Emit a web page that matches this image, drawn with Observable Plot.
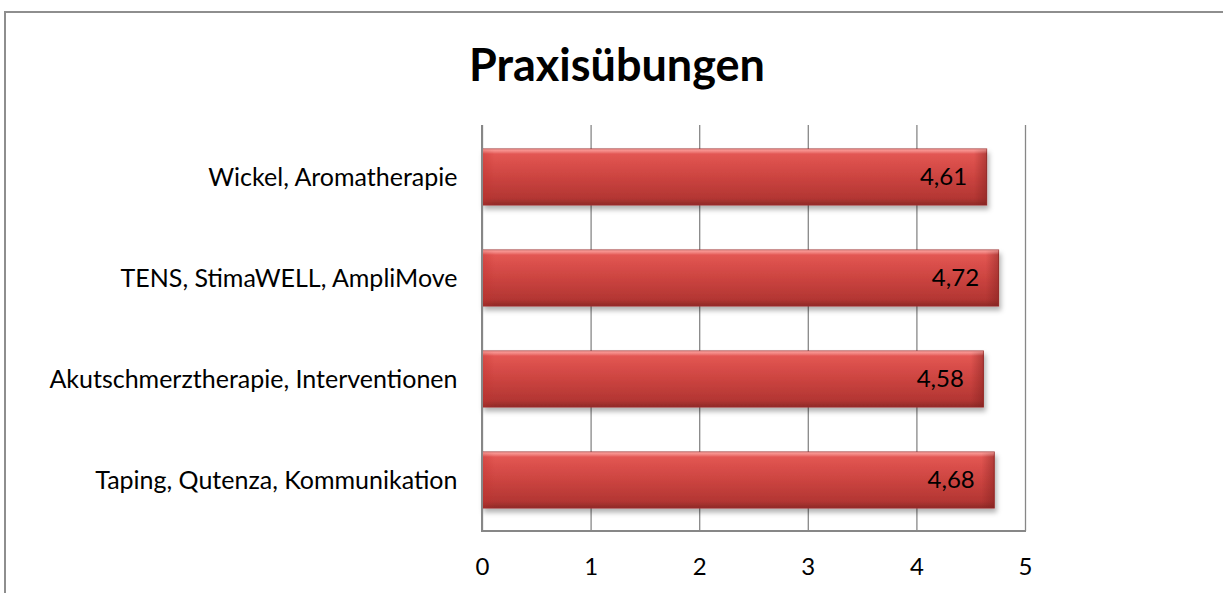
<!DOCTYPE html>
<html>
<head>
<meta charset="utf-8">
<script src="https://cdn.jsdelivr.net/npm/d3@7"></script>
<script src="https://cdn.jsdelivr.net/npm/@observablehq/plot@0.6"></script>
<style>
  html, body { margin: 0; padding: 0; background: #fff; }
  #wrap { position: relative; width: 1223px; height: 593px; overflow: hidden; font-family: Lato, "Open Sans", sans-serif; }
  #frame { position: absolute; left: 4px; top: 11px; width: 1240px; height: 620px; border: 2px solid #8e8e8e; box-sizing: border-box; }
  #title { position: absolute; left: 0; width: 1234px; top: 36px; text-align: center; font-weight: 700; font-size: 45px; line-height: 56px; color: #000; }
  #chart { position: absolute; left: 0; top: 0; }
</style>
</head>
<body>
<div id="wrap">
  <div id="frame"></div>
  <div id="chart"></div>
  <div id="title">Praxisübungen</div>
</div>
<script>
const categories = ["Wickel, Aromatherapie", "TENS, StimaWELL, AmpliMove", "Akutschmerztherapie, Interventionen", "Taping, Qutenza, Kommunikation"];
const values = [4.61, 4.72, 4.58, 4.68];
const xTicks = [0, 1, 2, 3, 4, 5];

const data = categories.map((c, i) => ({category: c, value: values[i]}));
const fmt = v => v.toFixed(2).replace(".", ",");

const chart = Plot.plot({
  width: 1223,
  height: 593,
  marginLeft: 482,
  marginRight: 198,
  marginTop: 125,
  marginBottom: 62,
  style: {fontFamily: "Lato, 'Open Sans', sans-serif", fontSize: "25px", color: "#000", background: "transparent"},
  x: {domain: [0, 5], ticks: xTicks, label: null, tickSize: 0, tickPadding: 26},
  y: {domain: categories, label: null, paddingInner: 0.45, paddingOuter: 0.225, tickSize: 0, tickPadding: 25},
  marks: [
    Plot.ruleX(xTicks, {stroke: "#878787", strokeWidth: 1.3}),
    Plot.barX(data, {x: "value", y: "category", fill: "url(#barGrad)", stroke: "#9a2c2a", strokeWidth: 1, insetRight: -4}),
    Plot.barX(data, {x: "value", y: "category", fill: "url(#bevelGrad)", insetRight: -4}),
    Plot.barX(data, {x: "value", y: "category", fill: "url(#topGrad)", insetRight: -4}),
    Plot.text(data, {x: "value", y: "category", text: d => fmt(d.value), textAnchor: "end", dx: -16, fontSize: 24, fill: "#000"}),
    Plot.axisX({ticks: xTicks, tickSize: 0, tickPadding: 26, tickFormat: d => String(d), fontSize: 24}),
    Plot.axisY({tickSize: 0, tickPadding: 25, fontSize: 25})
  ]
});

document.getElementById("chart").appendChild(chart);

// gradients and shadow
const svg = d3.select(chart);
const defs = svg.insert("defs", ":first-child");
const g = defs.append("linearGradient").attr("id", "barGrad").attr("x1", 0).attr("y1", 0).attr("x2", 0).attr("y2", 1);
g.append("stop").attr("offset", "0%").attr("stop-color", "#f58a86");
g.append("stop").attr("offset", "10%").attr("stop-color", "#e25652");
g.append("stop").attr("offset", "50%").attr("stop-color", "#cc4440");
g.append("stop").attr("offset", "88%").attr("stop-color", "#b33633");
g.append("stop").attr("offset", "100%").attr("stop-color", "#8f2a28");
const b = defs.append("linearGradient").attr("id", "bevelGrad").attr("x1", 0).attr("y1", 0).attr("x2", 1).attr("y2", 0);
b.append("stop").attr("offset", "0%").attr("stop-color", "#c0302c").attr("stop-opacity", 0.35);
b.append("stop").attr("offset", "2.5%").attr("stop-color", "#c0302c").attr("stop-opacity", 0);
b.append("stop").attr("offset", "97.5%").attr("stop-color", "#7a1e1c").attr("stop-opacity", 0);
b.append("stop").attr("offset", "100%").attr("stop-color", "#7a1e1c").attr("stop-opacity", 0.45);
const t = defs.append("linearGradient").attr("id", "topGrad").attr("x1", 0).attr("y1", 0).attr("x2", 0).attr("y2", 1);
t.append("stop").attr("offset", "0%").attr("stop-color", "#ffb0ac").attr("stop-opacity", 0.6);
t.append("stop").attr("offset", "8%").attr("stop-color", "#ffb0ac").attr("stop-opacity", 0);
t.append("stop").attr("offset", "100%").attr("stop-color", "#ffb0ac").attr("stop-opacity", 0);
const f = defs.append("filter").attr("id", "shadow").attr("x", "-5%").attr("y", "-20%").attr("width", "110%").attr("height", "160%");
f.append("feDropShadow").attr("dx", 2).attr("dy", 4).attr("stdDeviation", 2.5).attr("flood-color", "#000").attr("flood-opacity", 0.3);

const barGroups = svg.selectAll("g[aria-label='bar']");
barGroups.filter((d, i) => i === 0).attr("filter", "url(#shadow)");

// axis frame lines (left and bottom), gray like the reference
svg.append("line").attr("x1", 482).attr("x2", 482).attr("y1", 125).attr("y2", 531).attr("stroke", "#878787").attr("stroke-width", 2);
svg.append("line").attr("x1", 481).attr("x2", 1026).attr("y1", 531).attr("y2", 531).attr("stroke", "#878787").attr("stroke-width", 2);
</script>
</body>
</html>
